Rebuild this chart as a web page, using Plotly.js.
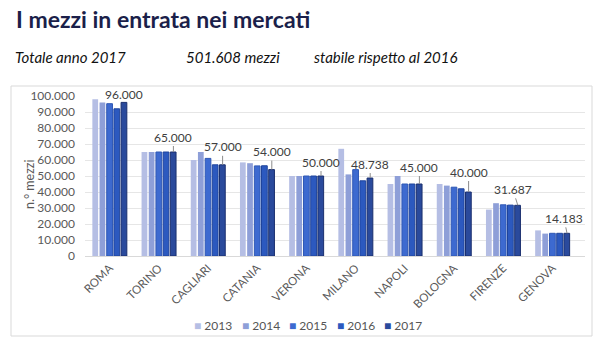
<!DOCTYPE html>
<html>
<head>
<meta charset="utf-8">
<script src="https://cdn.plot.ly/plotly-3.0.1.min.js"></script>
<style>
html,body{margin:0;padding:0;background:#fff;}
#chart{width:600px;height:344px;}
</style>
</head>
<body>
<div id="chart"></div>
<script>
var cities = ["ROMA","TORINO","CAGLIARI","CATANIA","VERONA","MILANO","NAPOLI","BOLOGNA","FIRENZE","GENOVA"];
var years = ["2013","2014","2015","2016","2017"];
var v2013 = [98000,65000,60000,58500,50000,67000,45000,45000,29000,16000];
var v2014 = [96000,65000,65000,58000,50000,51000,50000,44000,33000,14000];
var v2015 = [95200,65000,61000,56300,50000,54000,45000,43000,32000,14183];
var v2016 = [92000,65000,57000,56400,50000,47000,45000,42000,31800,14183];
var v2017 = [96000,65000,57000,54000,50000,48738,45000,40000,31687,14183];
var labelText = ["96.000","65.000","57.000","54.000","50.000","48.738","45.000","40.000","31.687","14.183"];
var labelLift = [-8,-15,-18,-18,-14,-14,-17,-20,-16,-15];
var labelDx = [0,0,0,0,0,0,0,0,-5,-3];

var series = [v2013,v2014,v2015,v2016,v2017];
var fills = ["#b5bee4","#8e9fd8","#3d6ad0","#2c59bf","#2a4a9c"];
var lines = ["#b5bee4","#8e9fd8","#2f58b4","#1f449b","#1a2f6e"];
var FONT = "Lato, sans-serif";

var traces = series.map(function(vals,i){
  return {
    type:"bar", name: years[i], x: cities, y: vals,
    marker:{color: fills[i], line:{color: lines[i], width: i>=2 ? 1 : 0}},
    hoverinfo:"skip", showlegend:false
  };
});

var bargap = 0.27, bargroupgap = 0.2;
var pl = 85, pt = 96, pw = 500, ph = 160;
var catW = pw / cities.length;
var slot = catW * (1 - bargap) / years.length;
var shift2017 = 2 * slot;
function px(x){ return (x - pl) / pw; }
function py(y){ return (pt + ph - y) / ph; }

var annotations = cities.map(function(c,i){
  return {
    x: c, y: v2017[i], xref:"x", yref:"y", text: labelText[i],
    showarrow: true, arrowhead: 0, arrowwidth: 1, arrowcolor: "#8c8c8c",
    ax: labelDx[i], ay: labelLift[i], xshift: shift2017,
    font:{family:FONT, size:12, color:"#404040"}
  };
});

annotations.push({
  xref:"paper", yref:"paper", x: px(14), y: py(19), xanchor:"left", yanchor:"middle",
  text:"<b>I mezzi in entrata nei mercati</b>", showarrow:false,
  font:{family:FONT, size:23, color:"#1b1f4a"}
});
var subs = [["Totale anno 2017",13],["501.608 mezzi",184],["stabile rispetto al 2016",312]];
subs.forEach(function(s){
  annotations.push({
    xref:"paper", yref:"paper", x: px(s[1]), y: py(57), xanchor:"left", yanchor:"middle",
    text:"<i>"+s[0]+"</i>", showarrow:false,
    font:{family:FONT, size:15, color:"#111"}
  });
});

// y-axis title
annotations.push({
  xref:"paper", yref:"paper", x: px(29), y: py(184), xanchor:"center", yanchor:"middle",
  text:"n.° mezzi", textangle:-90, showarrow:false,
  font:{family:FONT, size:12.5, color:"#595959"}
});

// legend (compact, like the original)
var legX0 = 192, legStep = 47.5;
years.forEach(function(y,i){
  annotations.push({
    xref:"paper", yref:"paper", x: px(legX0 + i*legStep), y: py(325), xanchor:"left", yanchor:"middle",
    text:'<span style="color:'+fills[i]+'">■</span> '+y, showarrow:false,
    font:{family:FONT, size:12, color:"#555"}
  });
});

var layout = {
  width:600, height:344,
  margin:{l:pl, r:600-pl-pw, t:pt, b:344-pt-ph},
  paper_bgcolor:"#fff", plot_bgcolor:"#fff",
  separators:",.",
  barmode:"group", bargap: bargap, bargroupgap: bargroupgap,
  showlegend:false,
  xaxis:{type:"category", tickangle:-45, showline:true, linecolor:"#d9d9d9", ticks:"",
    tickfont:{family:FONT, size:11.5, color:"#595959"}, fixedrange:true},
  yaxis:{range:[0,100000], dtick:10000, tickformat:",d", gridcolor:"#e6e6e6", zeroline:false,
    showline:false, ticks:"", ticklabelstandoff:9,
    tickfont:{family:FONT, size:12, color:"#595959"},
    fixedrange:true},
  shapes:[{type:"rect", xref:"paper", yref:"paper", x0:px(11), x1:px(592), y0:py(336), y1:py(86),
    line:{color:"#d9d9d9", width:1}, layer:"below"}],
  annotations: annotations
};

Plotly.newPlot("chart", traces, layout, {displayModeBar:false, staticPlot:true});
</script>
</body>
</html>
